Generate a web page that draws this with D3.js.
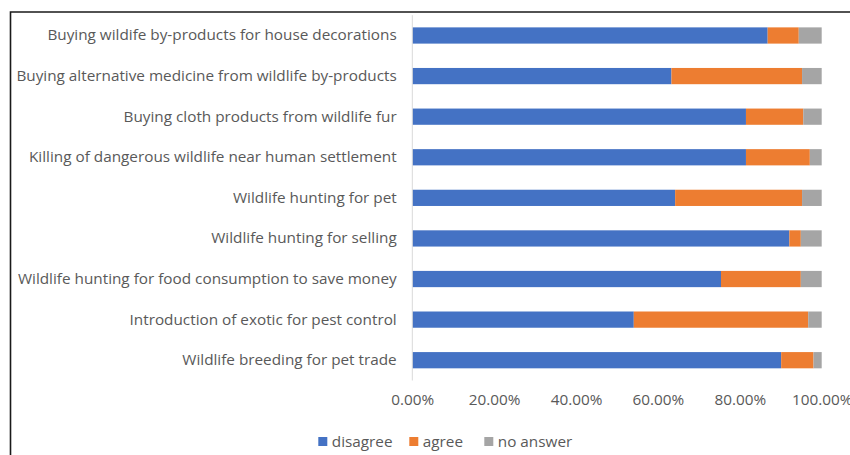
<!DOCTYPE html>
<html>
<head>
<meta charset="utf-8">
<script src="https://cdn.jsdelivr.net/npm/d3@7/dist/d3.min.js"></script>
<style>
  html, body { margin: 0; padding: 0; background: #fff; }
  svg { display: block; }
  text { font-family: "Open Sans", "Liberation Sans", sans-serif; fill: #595959; }
</style>
</head>
<body>
<svg id="chart" width="850" height="455"></svg>
<script>
// Survey statements (top to bottom)
const categories = [
  "Buying wildife by-products for house decorations",
  "Buying alternative medicine from wildlife by-products",
  "Buying cloth products from wildlife fur",
  "Killing of dangerous wildlife near human settlement",
  "Wildlife hunting for pet",
  "Wildlife hunting for selling",
  "Wildlife hunting for food consumption to save money",
  "Introduction of exotic for pest control",
  "Wildlife breeding for pet trade"
];

// Share of respondents per answer (fractions)
const disagree = [0.868, 0.633, 0.815, 0.815, 0.642, 0.921, 0.754, 0.541, 0.901];
const agree    = [0.076, 0.319, 0.140, 0.156, 0.310, 0.028, 0.195, 0.426, 0.079];
const noAnswer = [0.056, 0.048, 0.045, 0.029, 0.048, 0.051, 0.051, 0.033, 0.020];

const seriesNames = ["disagree", "agree", "no answer"];
const seriesColors = ["#4472C4", "#ED7D31", "#A5A5A5"];
const tickValues = [0, 0.2, 0.4, 0.6, 0.8, 1.0];

const rows = categories.map((c, i) => ({
  category: c,
  "disagree": disagree[i],
  "agree": agree[i],
  "no answer": noAnswer[i]
}));

const svg = d3.select("#chart");
const W = 850, H = 455;
const plot = { left: 412.3, right: 821.7, top: 15.2, bottom: 380.5 };
const fontSize = 15.3;

// outer frame
svg.append("path")
  .attr("d", `M10.5,${H + 2} V12 H${W + 2}`)
  .attr("fill", "none")
  .attr("stroke", "#1a1a1a")
  .attr("stroke-width", 1.6);

const x = d3.scaleLinear().domain([0, 1]).range([plot.left, plot.right]);
const y = d3.scaleBand().domain(categories)
  .range([plot.top, plot.bottom])
  .paddingInner(0.6).paddingOuter(0.3);
const color = d3.scaleOrdinal().domain(seriesNames).range(seriesColors);

const stacked = d3.stack().keys(seriesNames)(rows);

// stacked bars
svg.append("g").selectAll("g")
  .data(stacked)
  .join("g")
  .attr("fill", d => color(d.key))
  .selectAll("rect")
  .data(d => d)
  .join("rect")
  .attr("x", d => x(d[0]))
  .attr("width", d => x(d[1]) - x(d[0]))
  .attr("y", d => y(d.data.category))
  .attr("height", y.bandwidth());

// category axis line
svg.append("line")
  .attr("x1", x(0)).attr("x2", x(0))
  .attr("y1", plot.top).attr("y2", plot.bottom)
  .attr("stroke", "#D9D9D9").attr("stroke-width", 1);

// category labels
const yAxis = svg.append("g")
  .attr("transform", `translate(${x(0)},0)`)
  .call(d3.axisLeft(y).tickSize(0).tickPadding(15.6));
yAxis.select(".domain").remove();
yAxis.selectAll("text")
  .attr("font-size", fontSize)
  .style("font-family", "'Open Sans', sans-serif")
  .attr("fill", "#595959");

// value axis labels
const xAxis = svg.append("g")
  .attr("transform", `translate(0,${plot.bottom})`)
  .call(d3.axisBottom(x).tickValues(tickValues).tickFormat(d3.format(".2%")).tickSize(0).tickPadding(14));
xAxis.select(".domain").remove();
xAxis.selectAll("text")
  .attr("font-size", fontSize)
  .style("font-family", "'Open Sans', sans-serif")
  .attr("fill", "#595959");

// legend
const legendX = [318.3, 409.3, 484.3];
const legend = svg.append("g").selectAll("g")
  .data(seriesNames)
  .join("g")
  .attr("transform", (d, i) => `translate(${legendX[i]},437)`);
legend.append("rect")
  .attr("width", 9).attr("height", 9)
  .attr("fill", d => color(d));
legend.append("text")
  .attr("x", 13.5).attr("y", 9.8)
  .attr("font-size", fontSize)
  .text(d => d);
</script>
</body>
</html>
